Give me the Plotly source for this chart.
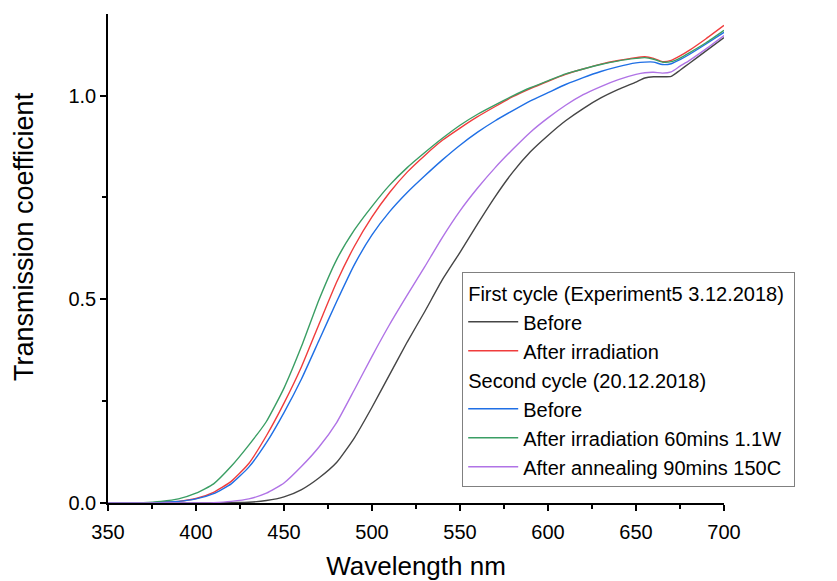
import plotly.graph_objects as go

wavelength = [350, 360, 370, 380, 390, 400, 410, 420, 430, 440, 450, 460, 470, 480, 490,
              500, 510, 520, 530, 540, 550, 560, 570, 580, 590, 600, 610, 620, 630, 640,
              650, 655, 660, 665, 670, 675, 680, 690, 700]

first_before = [0, 0, 0, 0, 0, 0, 0, 0.001, 0.002, 0.006, 0.015, 0.033, 0.062, 0.100, 0.160,
                0.235, 0.315, 0.395, 0.470, 0.548, 0.615, 0.685, 0.752, 0.812, 0.862, 0.902,
                0.938, 0.968, 0.994, 1.015, 1.033, 1.043, 1.046, 1.046, 1.047, 1.062, 1.078,
                1.110, 1.142]

first_after_irr = [0, 0, 0, 0.002, 0.004, 0.011, 0.026, 0.053, 0.097, 0.165, 0.245, 0.335,
                   0.440, 0.543, 0.630, 0.702, 0.762, 0.812, 0.853, 0.890, 0.920, 0.948, 0.973,
                   0.997, 1.017, 1.035, 1.052, 1.065, 1.077, 1.086, 1.093, 1.095, 1.091, 1.083,
                   1.086, 1.097, 1.110, 1.140, 1.172]

second_before = [0, 0, 0, 0.002, 0.004, 0.010, 0.023, 0.047, 0.088, 0.148, 0.222, 0.305,
                 0.400, 0.495, 0.585, 0.658, 0.715, 0.762, 0.803, 0.842, 0.878, 0.910, 0.938,
                 0.963, 0.987, 1.007, 1.027, 1.044, 1.059, 1.071, 1.080, 1.082, 1.082, 1.076,
                 1.078, 1.088, 1.100, 1.127, 1.155]

second_after_irr = [0, 0, 0.001, 0.004, 0.010, 0.024, 0.047, 0.090, 0.142, 0.200, 0.282,
                    0.385, 0.500, 0.598, 0.670, 0.728, 0.780, 0.823, 0.860, 0.895, 0.927,
                    0.954, 0.977, 0.999, 1.019, 1.036, 1.053, 1.065, 1.076, 1.085, 1.091,
                    1.093, 1.089, 1.082, 1.083, 1.092, 1.104, 1.130, 1.160]

second_after_anneal = [0, 0, 0, 0, 0, 0, 0.001, 0.004, 0.010, 0.024, 0.049, 0.090, 0.138,
                       0.198, 0.278, 0.360, 0.438, 0.510, 0.580, 0.652, 0.717, 0.773, 0.823,
                       0.868, 0.910, 0.945, 0.976, 1.002, 1.022, 1.039, 1.052, 1.056, 1.057,
                       1.055, 1.058, 1.072, 1.085, 1.115, 1.147]

x_ticks = [350, 400, 450, 500, 550, 600, 650, 700]
y_ticks = [0.0, 0.5, 1.0]

group1 = "First cycle (Experiment5 3.12.2018)"
group2 = "Second cycle (20.12.2018)"

series = [
    ("Before", first_before, "#454545", "g1", group1),
    ("After irradiation", first_after_irr, "#f03c3c", "g1", group1),
    ("Before", second_before, "#1f6fe5", "g2", group2),
    ("After irradiation 60mins 1.1W", second_after_irr, "#3a9e64", "g2", group2),
    ("After annealing 90mins 150C", second_after_anneal, "#b073e6", "g2", group2),
]

fig = go.Figure()
for name, vals, color, grp, gtitle in series:
    fig.add_trace(go.Scatter(
        x=wavelength, y=vals, mode="lines", name=name,
        line=dict(color=color, width=1.4, shape="spline", smoothing=0.5),
        legendgroup=grp,
        legendgrouptitle=dict(text=gtitle, font=dict(size=20, color="black")),
    ))

font_family = "Liberation Sans, Arial, sans-serif"
fig.update_layout(
    width=837, height=581,
    margin=dict(l=108, r=113, t=14, b=78, autoexpand=False),
    paper_bgcolor="white", plot_bgcolor="white",
    font=dict(family=font_family, color="black"),
    showlegend=True,
    legend=dict(
        x=0.575, y=0.472, xanchor="left", yanchor="top",
        bgcolor="white", bordercolor="#808080", borderwidth=1,
        font=dict(size=20, color="black"),
        traceorder="grouped", tracegroupgap=0, itemwidth=50,
    ),
    annotations=[dict(
        text="Transmission coefficient", textangle=-90,
        xref="paper", yref="paper", x=0, y=0.544,
        xanchor="center", yanchor="middle", xshift=-84,
        showarrow=False, font=dict(size=27, color="black"),
    )],
)
fig.update_xaxes(
    range=[350, 700], tickvals=x_ticks, ticktext=[str(v) for v in x_ticks],
    showline=True, linecolor="black", linewidth=1.5,
    ticks="outside", ticklen=6, tickwidth=1.5, tickcolor="black",
    minor=dict(ticks="outside", ticklen=4, tickwidth=1.5, tickcolor="black", dtick=25, tick0=350),
    showgrid=False, zeroline=False, automargin=False,
    tickfont=dict(size=20), ticklabelstandoff=4,
    title=dict(text="Wavelength nm", font=dict(size=26), standoff=20),
)
fig.update_yaxes(
    range=[0, 1.2], tickvals=y_ticks, ticktext=["%.1f" % v for v in y_ticks],
    showline=True, linecolor="black", linewidth=1.5,
    ticks="outside", ticklen=6, tickwidth=1.5, tickcolor="black",
    minor=dict(ticks="outside", ticklen=4, tickwidth=1.5, tickcolor="black", dtick=0.25, tick0=0),
    showgrid=False, zeroline=False, automargin=False,
    tickfont=dict(size=20),
)

fig.write_html(
    "out.html",
    config={"displayModeBar": False},
    post_script="document.body.style.margin='0';document.body.style.overflow='hidden';",
)
